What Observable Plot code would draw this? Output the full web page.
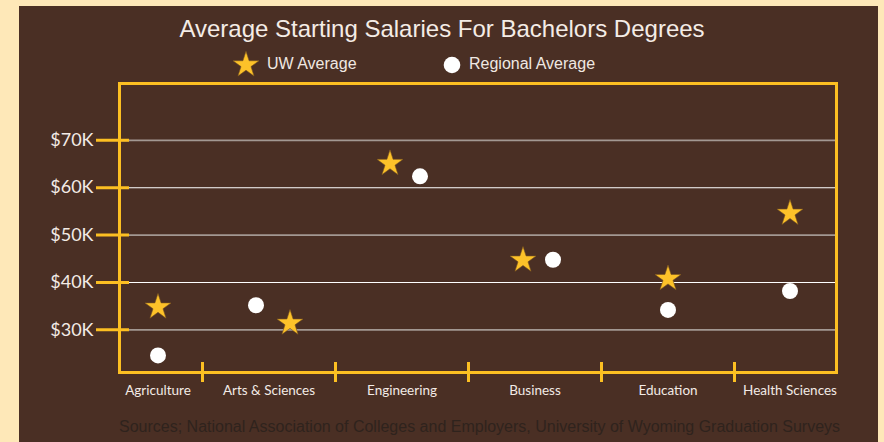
<!DOCTYPE html>
<html>
<head>
<meta charset="utf-8">
<script src="https://cdn.jsdelivr.net/npm/d3@7"></script>
<script src="https://cdn.jsdelivr.net/npm/@observablehq/plot@0.6"></script>
<style>
  html, body { margin: 0; padding: 0; background: #fee8b8; }
  #page { position: relative; width: 884px; height: 442px; overflow: hidden; background: #fee8b8; }
  #panel { position: absolute; left: 19px; top: 6px; width: 859px; height: 440px; background: #4a2f24; }
  .t { position: absolute; font-family: "Liberation Sans", Arial, sans-serif; white-space: nowrap; }
  #title { left: 0; width: 884px; top: 15px; text-align: center; font-size: 24px; color: #f4ece6; }
  #leg1 { left: 267px; top: 55px; font-size: 16px; color: #f0e8e2; }
  #leg2 { left: 469px; top: 55px; font-size: 16px; color: #f0e8e2; }
  #caption { left: 119px; top: 418px; font-size: 16px; color: #2f231d; }
  #chart { position: absolute; left: 0; top: 0; }
  #legsvg { position: absolute; left: 0; top: 0; }
</style>
</head>
<body>
<div id="page">
  <div id="panel"></div>
  <div id="chart"></div>
  <div class="t" id="title">Average Starting Salaries For Bachelors Degrees</div>
  <svg id="legsvg" width="884" height="90"></svg>
  <div class="t" id="leg1">UW Average</div>
  <div class="t" id="leg2">Regional Average</div>
  <div class="t" id="caption">Sources; National Association of Colleges and Employers, University of Wyoming Graduation Surveys</div>
</div>
<script>
// ---- data ----
const categories = ["Agriculture", "Arts & Sciences", "Engineering", "Business", "Education", "Health Sciences"];
const uwAverage = [34800, 31400, 65100, 44700, 40800, 54600];
const regionalAverage = [24600, 35200, 62400, 44800, 34200, 38200];
const yTicks = [30000, 40000, 50000, 60000, 70000];

// ---- layout & styles ----
const GOLD = "#fcbf22";
const STAR = "#fdc229";
const TEXT = "#f3ebe6";
const rows = categories.map((c, i) => ({category: c, uw: uwAverage[i], regional: regionalAverage[i]}));

const W = 884, H = 442;
const mL = 119, mR = 48, mT = 83, mB = 70;
const frameL = mL, frameR = W - mR;
// category bands run past the frame at both ends (the outer bands are clipped by it)
const xRange = [frameL - 50, frameR + 31];
const bw = (xRange[1] - xRange[0]) / categories.length;

// shift of the outer categories to the middle of their visible part
function edgeShift(i) {
  const a = xRange[0] + i * bw, b = a + bw;
  const va = Math.max(a, frameL), vb = Math.min(b, frameR);
  return Math.round((va + vb) / 2 - (a + b) / 2 + (i === 0 ? -3 : i === categories.length - 1 ? 4 : 0));
}
// pairs whose values are close are drawn side by side
const starLeft = new Set(["Engineering", "Business"]);
const starRight = new Set(["Arts & Sciences"]);
function pairShift(c, series) {
  if (starLeft.has(c)) return series === "uw" ? -12 : 18;
  if (starRight.has(c)) return series === "uw" ? 21 : -13;
  return 0;
}
// one mark per distinct horizontal shift
function shiftedMarks(series, make) {
  const groups = d3.group(rows, d => edgeShift(categories.indexOf(d.category)) + pairShift(d.category, series));
  return Array.from(groups, ([dx, data]) => make(data, dx));
}
function shiftedLabels() {
  const groups = d3.group(categories, c => edgeShift(categories.indexOf(c)));
  return Array.from(groups, ([dx, ticks]) => Plot.axisX({ticks, dx, tickSize: 0, tickPadding: 13, fontSize: 13.5,
    fill: TEXT, label: null}));
}

const chart = Plot.plot({
  width: W, height: H,
  marginLeft: mL, marginRight: mR, marginTop: mT, marginBottom: mB,
  style: {background: "transparent", fontFamily: "Lato, 'Liberation Sans', sans-serif"},
  x: {type: "band", domain: categories, range: xRange, padding: 0, axis: null, label: null},
  y: {domain: [21000, 82000], axis: null, label: null},
  marks: [
    Plot.ruleY(yTicks.filter((d, i) => i % 2 === 0), {stroke: "#a39892", strokeWidth: 1.6}),
    Plot.ruleY(yTicks.filter((d, i) => i % 2 === 1), {stroke: "#ffffff", strokeWidth: 1.2}),
    Plot.frame({stroke: GOLD, strokeWidth: 3}),
    // y ticks crossing the frame
    Plot.axisY({ticks: yTicks, tickSize: 33, dx: 10, text: null, stroke: GOLD, strokeWidth: 3, label: null}),
    Plot.axisY({ticks: yTicks, tickSize: 0, tickPadding: 26, fontSize: 18, fill: TEXT, label: null,
      tickFormat: d => `$${d / 1000}K`}),
    // separators between categories
    Plot.axisX({ticks: categories.slice(1), tickSize: 20, dy: -10, dx: -bw / 2, text: null, stroke: GOLD, strokeWidth: 3, label: null}),
    ...shiftedLabels(),
    // regional average dots
    ...shiftedMarks("regional", (data, dx) => Plot.dot(data, {x: "category", y: "regional", r: 8, fill: "white", dx})),
    // UW average stars
    ...shiftedMarks("uw", (data, dx) => Plot.dot(data, {x: "category", y: "uw", symbol: "star", r: 8.2,
      fill: STAR, stroke: "#7a5420", strokeWidth: 0.6, dx}))
  ]
});
document.getElementById("chart").appendChild(chart);

// legend symbols
const leg = d3.select("#legsvg");
leg.append("path").attr("transform", "translate(246,65)")
  .attr("d", d3.symbol(d3.symbolStar, Math.PI * 8.2 * 8.2)()).attr("fill", STAR).attr("stroke", "#7a5420").attr("stroke-width", 0.6);
leg.append("circle").attr("cx", 452).attr("cy", 65).attr("r", 8.3).attr("fill", "white");
</script>
</body>
</html>
